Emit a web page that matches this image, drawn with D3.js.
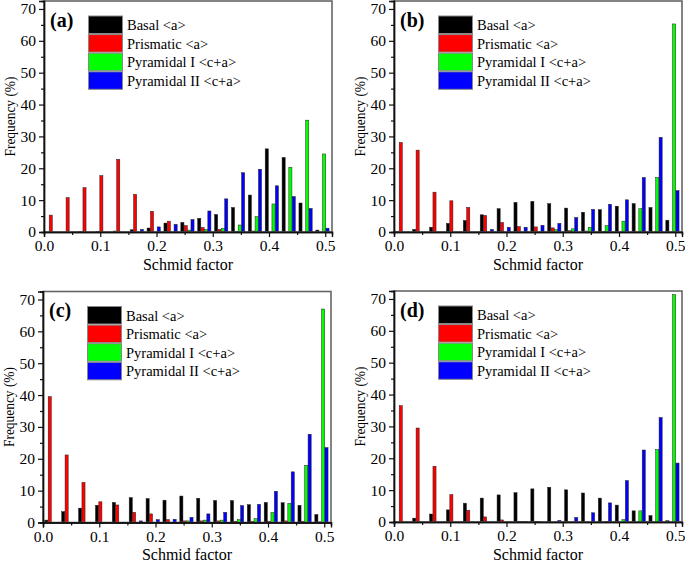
<!DOCTYPE html>
<html>
<head>
<meta charset="utf-8">
<script src="https://cdn.jsdelivr.net/npm/d3@7/dist/d3.min.js"></script>
<style>
  html, body { margin: 0; padding: 0; background: #fff; }
  svg { display: block; }
</style>
</head>
<body>
<svg id="fig" width="685" height="563"></svg>
<script>
// Schmid factor histograms, four slip systems, four conditions (a)-(d).
// Bins are 0.03 wide, starting at these left edges.
const binStarts = [0, 0.03, 0.06, 0.09, 0.12, 0.15, 0.18, 0.21, 0.24, 0.27, 0.30, 0.33, 0.36, 0.39, 0.42, 0.45, 0.48];
const BIN_W = 0.03;

const seriesNames = ["Basal <a>", "Prismatic <a>", "Pyramidal I <c+a>", "Pyramidal II <c+a>"];
const seriesColors = ["#000000", "#ff0000", "#00ff00", "#0000ff"];

const xTicks = [0.0, 0.1, 0.2, 0.3, 0.4, 0.5];
const yTicks = [0, 10, 20, 30, 40, 50, 60, 70];

// frequency (%) per bin
const basalA = [0, 0, 0.1, 0.2, 0.3, 0.7, 1.25, 2.8, 3.0, 4.3, 5.5, 7.7, 11.6, 26.1, 23.4, 9.1, 0.6];
const prismA = [5.3, 10.8, 13.9, 17.7, 22.8, 11.8, 6.5, 3.4, 2.0, 1.4, 0.8, 0.2, 0.3, 0, 0, 0, 0];
const pyr1A  = [0, 0, 0, 0, 0, 0, 0, 0, 0.6, 0.8, 1.15, 2.2, 4.8, 8.8, 20.3, 35.1, 24.5];
const pyr2A  = [0, 0, 0, 0, 0, 0.8, 1.6, 2.4, 3.9, 6.6, 10.4, 18.6, 19.7, 14.5, 11.1, 7.4, 1.2];

const basalB = [0.2, 0.8, 1.5, 2.7, 3.6, 5.4, 7.3, 9.3, 9.6, 8.9, 7.5, 6.2, 7.0, 8.1, 8.9, 7.7, 3.7];
const prismB = [28.1, 25.7, 12.5, 9.8, 7.7, 5.2, 3.0, 1.7, 1.6, 1.3, 0.4, 0.3, 0.2, 0, 0, 0, 0];
const pyr1B  = [0, 0, 0, 0, 0, 0, 0, 0, 0, 0.75, 1.0, 1.5, 2.0, 3.4, 7.3, 17.1, 65.3];
const pyr2B  = [0, 0, 0, 0, 0, 0.8, 1.5, 1.5, 2.1, 2.7, 4.5, 7.1, 8.7, 10.1, 17.1, 29.7, 13.0];

const basalC = [0.75, 3.4, 4.5, 5.4, 6.3, 7.8, 7.5, 7.0, 8.3, 7.6, 6.9, 6.9, 5.6, 6.3, 6.2, 5.4, 2.5];
const prismC = [39.5, 21.2, 12.6, 6.5, 5.5, 3.2, 2.7, 0.9, 0.5, 0.5, 0.5, 0.4, 0.4, 0.4, 0.5, 0.4, 0.2];
const pyr1C  = [0, 0, 0, 0, 0, 0, 0, 0, 0.5, 0.75, 0.75, 0.9, 1.2, 3.1, 6.0, 17.9, 67.0];
const pyr2C  = [0, 0, 0, 0, 0, 0.5, 0.9, 1.0, 1.6, 2.7, 3.2, 5.3, 5.7, 9.8, 15.9, 27.7, 23.5];

const basalD = [0, 1.2, 2.5, 3.8, 5.9, 7.5, 8.5, 9.2, 10.4, 10.9, 10.1, 9.1, 7.5, 5.3, 3.5, 2.0, 0.4];
const prismD = [36.5, 29.5, 17.5, 8.6, 3.7, 1.6, 0.65, 0.1, 0.1, 0, 0, 0, 0, 0, 0, 0, 0];
const pyr1D  = [0, 0, 0, 0, 0, 0, 0, 0.1, 0.1, 0, 0, 0, 0.2, 0.75, 3.5, 22.7, 71.4];
const pyr2D  = [0, 0, 0, 0, 0, 0, 0, 0.1, 0, 0.5, 1.4, 2.9, 6.0, 13.0, 22.6, 32.8, 18.5];

const panelLabels = ["(a)", "(b)", "(c)", "(d)"];
const panelSeries = [
  [basalA, prismA, pyr1A, pyr2A],
  [basalB, prismB, pyr1B, pyr2B],
  [basalC, prismC, pyr1C, pyr2C],
  [basalD, prismD, pyr1D, pyr2D],
];

// layout (px)
const ORIGINS = [[44, 1], [394, 1], [43, 291.5], [394, 291]];
const PW = 288, PH = 231;
const SERIF = "'Liberation Serif', 'Times New Roman', serif";

const svg = d3.select("#fig");

const x = d3.scaleLinear().domain([0, 0.512]).range([0, PW]);
const y = d3.scaleLinear().domain([0, 72.5]).range([PH, 0]);
// bar slots inside one bin
const slot = d3.scaleBand().domain(d3.range(seriesNames.length))
  .range([0, x(BIN_W) - x(0)]).paddingInner(0.08).paddingOuter(0.54);

panelSeries.forEach((series, pi) => {
  const [ox, oy] = ORIGINS[pi];
  const g = svg.append("g").attr("transform", `translate(${ox},${oy})`);

  g.append("defs").append("clipPath").attr("id", `clip${pi}`)
    .append("rect").attr("width", PW).attr("height", PH);

  // bars
  const gb = g.append("g").attr("clip-path", `url(#clip${pi})`);
  series.forEach((vals, si) => {
    gb.selectAll(`rect.s${si}`)
      .data(vals.map((v, k) => ({ v, k })).filter((d) => d.v > 0))
      .join("rect")
      .attr("class", `s${si}`)
      .attr("x", (d) => x(binStarts[d.k]) + slot(si))
      .attr("width", slot.bandwidth())
      .attr("y", (d) => y(d.v))
      .attr("height", (d) => PH - y(d.v))
      .attr("fill", seriesColors[si])
      .attr("stroke", "#222")
      .attr("stroke-width", 0.5);
  });

  // frame
  g.append("rect").attr("width", PW).attr("height", PH)
    .attr("fill", "none").attr("stroke", "#666").attr("stroke-width", 1.6);

  // axes: majors + minors, outward
  const xMinor = d3.axisBottom(x).tickValues(d3.range(0.05, 0.51, 0.1)).tickSize(3).tickFormat("");
  const xMajor = d3.axisBottom(x).tickValues(xTicks).tickSize(5).tickPadding(3)
    .tickFormat(d3.format(".1f"));
  const yMinor = d3.axisLeft(y).tickValues(d3.range(5, 71, 10)).tickSize(3).tickFormat("");
  const yMajor = d3.axisLeft(y).tickValues(yTicks).tickSize(5).tickPadding(3);

  const styleAxis = (sel) => {
    sel.select(".domain").attr("stroke", "#111").attr("stroke-width", 1.4);
    sel.selectAll(".tick line").attr("stroke", "#111").attr("stroke-width", 1.2);
    sel.selectAll(".tick text").attr("font-family", SERIF).attr("font-size", 15.5).attr("fill", "#000");
  };
  g.append("g").attr("transform", `translate(0,${PH})`).call(xMinor).call(styleAxis);
  g.append("g").attr("transform", `translate(0,${PH})`).call(xMajor).call(styleAxis);
  g.append("g").call(yMinor).call(styleAxis);
  g.append("g").call(yMajor).call(styleAxis);

  // axis titles
  g.append("text")
    .attr("x", PW / 2).attr("y", PH + 37.5)
    .attr("text-anchor", "middle")
    .attr("font-family", SERIF).attr("font-size", 16)
    .text("Schmid factor");
  g.append("text")
    .attr("transform", `translate(-29,${PH / 2}) rotate(-90)`)
    .attr("text-anchor", "middle")
    .attr("font-family", SERIF).attr("font-size", 14)
    .attr("textLength", 80).attr("lengthAdjust", "spacingAndGlyphs")
    .text("Frequency (%)");

  // panel tag
  g.append("text")
    .attr("x", 6).attr("y", 25.5)
    .attr("font-family", SERIF).attr("font-size", 20).attr("font-weight", "bold")
    .text(panelLabels[pi]);

  // legend
  const lg = g.append("g").attr("transform", "translate(44.5,15)");
  const rowH = 18.6;
  seriesNames.forEach((name, si) => {
    const r = lg.append("g").attr("transform", `translate(0,${si * rowH})`);
    r.append("rect").attr("width", 34).attr("height", 17.5)
      .attr("fill", seriesColors[si]).attr("stroke", "#888").attr("stroke-width", 1);
    r.append("text").attr("x", 38.5).attr("y", 14)
      .attr("font-family", SERIF).attr("font-size", 14.5)
      .text(name);
  });
});
</script>
</body>
</html>
